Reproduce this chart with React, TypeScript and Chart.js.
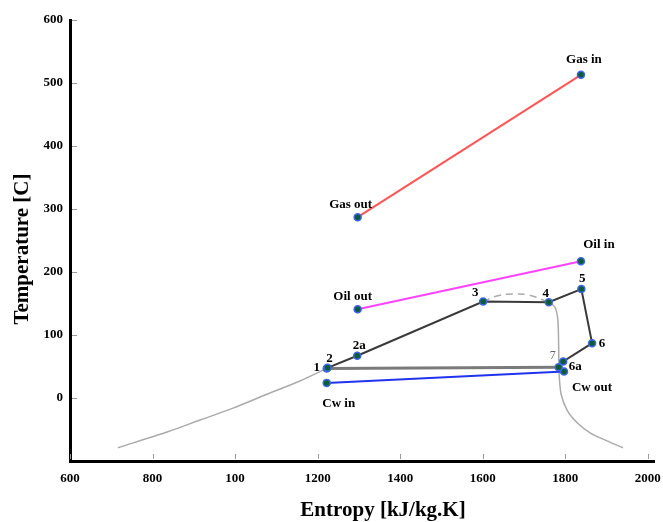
import React, { useEffect, useRef } from "react";
import { Chart, registerables } from "chart.js";

Chart.register(...registerables);

// Axis ticks (labels as printed on the axis)
const entropyTicks = [600, 800, 1000, 1200, 1400, 1600, 1800, 2000];
const entropyTickLabels = ["600", "800", "100", "1200", "1400", "1600", "1800", "2000"];
const temperatureTicks = [0, 100, 200, 300, 400, 500, 600];

// Saturation dome: liquid branch, top of the dome, vapour branch
const domeLiquidS = [716, 835, 915, 995, 1077, 1157, 1222];
const domeLiquidT = [-79, -54, -35, -16, 6, 27, 47];
const domeTopS = [1601, 1634, 1673, 1714, 1760];
const domeTopT = [153, 162, 165, 163, 152];
const domeVaporS = [1760, 1775, 1782, 1784, 1785, 1790, 1805, 1830, 1862, 1901, 1940];
const domeVaporT = [152, 144, 124, 81, 40, 6, -20, -40, -56, -68, -79];

// ORC cycle states
const cycleStates = ["1", "2", "2a", "3", "4", "5", "6", "6a", "7"];
const cycleS = [1222, 1224, 1296, 1601, 1760, 1839, 1865, 1795, 1784];
const cycleT = [47, 48, 67, 153, 152, 173, 87, 58, 49];

// Heat source / sink streams
const gasStates = ["Gas out", "Gas in"];
const gasS = [1297, 1838];
const gasT = [287, 513];
const oilStates = ["Oil out", "Oil in"];
const oilS = [1297, 1838];
const oilT = [141, 217];
const cwStates = ["Cw in", "Cw out"];
const cwS = [1222, 1797];
const cwT = [24, 42];

const pts = (s: number[], t: number[]) => s.map((v, i) => ({ x: v, y: t[i] }));

// Text placement around each state point (pixel offsets)
const labelOffsets: Record<string, [number, number]> = {
  "Gas in": [3, -15],
  "Gas out": [-7, -13],
  "Oil in": [18, -17],
  "Oil out": [-5, -13],
  "1": [-10, -1],
  "2": [2, -9],
  "2a": [2, -10],
  "3": [-8, -9],
  "4": [-3, -9],
  "5": [1, -10],
  "6": [10, 0],
  "6a": [12, 5],
  "7": [-6, -11],
  "Cw out": [28, 16],
  "Cw in": [12, 21],
};

const SERIF = "'Liberation Serif', 'Times New Roman', serif";

const marker = {
  pointRadius: 3.5,
  pointBackgroundColor: "#0d5c34",
  pointBorderColor: "#3b66e8",
  pointBorderWidth: 1.5,
};

const annotatePlugin = {
  id: "annotate",
  beforeDatasetsDraw(chart: any) {
    const { ctx, chartArea } = chart;
    const xs = chart.scales.x;
    const ys = chart.scales.y;
    ctx.save();
    ctx.strokeStyle = "#9a9a9a";
    ctx.lineWidth = 1;
    xs.ticks.forEach((t: any) => {
      const px = Math.round(xs.getPixelForValue(t.value)) + 0.5;
      ctx.beginPath();
      ctx.moveTo(px, chartArea.bottom - 2);
      ctx.lineTo(px, chartArea.bottom - 7);
      ctx.stroke();
    });
    ys.ticks.forEach((t: any) => {
      const py = Math.round(ys.getPixelForValue(t.value)) + 0.5;
      ctx.beginPath();
      ctx.moveTo(chartArea.left + 2, py);
      ctx.lineTo(chartArea.left + 7, py);
      ctx.stroke();
    });
    ctx.restore();
  },
  afterDatasetsDraw(chart: any) {
    const { ctx } = chart;
    const xs = chart.scales.x;
    const ys = chart.scales.y;
    ctx.save();
    ctx.textAlign = "center";
    ctx.textBaseline = "middle";

    const put = (names: string[], s: number[], t: number[]) => {
      names.forEach((name, i) => {
        const [dx, dy] = labelOffsets[name] || [0, -10];
        const px = xs.getPixelForValue(s[i]) + dx;
        const py = ys.getPixelForValue(t[i]) + dy;
        if (name === "7") {
          ctx.font = `12px ${SERIF}`;
          ctx.fillStyle = "#666";
        } else {
          ctx.font = `bold 13px ${SERIF}`;
          ctx.fillStyle = "#000";
        }
        ctx.fillText(name, px, py);
      });
    };
    put(gasStates, gasS, gasT);
    put(oilStates, oilS, oilT);
    put(cwStates, cwS, cwT);
    put(cycleStates, cycleS, cycleT);

    // Axis titles
    ctx.fillStyle = "#000";
    ctx.font = `bold 21px ${SERIF}`;
    ctx.fillText("Entropy [kJ/kg.K]", 383, 511);
    ctx.translate(23, 249);
    ctx.rotate(-Math.PI / 2);
    ctx.fillText("Temperature [C]", 0, 0);
    ctx.restore();
  },
};

export default function App() {
  const canvasRef = useRef<HTMLCanvasElement | null>(null);

  useEffect(() => {
    if (!canvasRef.current) return;
    const chart = new Chart(canvasRef.current, {
      type: "scatter",
      data: {
        datasets: [
          {
            label: "Cycle",
            data: pts(cycleS, cycleT),
            showLine: true,
            borderColor: "#3a3a3a",
            borderWidth: 2,
            ...marker,
          },
          {
            label: "Condensation",
            data: pts([cycleS[8], cycleS[0]], [cycleT[8], cycleT[0]]),
            showLine: true,
            borderColor: "#7a7a7a",
            borderWidth: 3,
            pointRadius: 0,
          },
          {
            label: "Gas",
            data: pts(gasS, gasT),
            showLine: true,
            borderColor: "#ff5555",
            borderWidth: 2,
            ...marker,
          },
          {
            label: "Oil",
            data: pts(oilS, oilT),
            showLine: true,
            borderColor: "#ff44ff",
            borderWidth: 2,
            ...marker,
          },
          {
            label: "Cooling water",
            data: pts(cwS, cwT),
            showLine: true,
            borderColor: "#2233ee",
            borderWidth: 2,
            ...marker,
          },
          {
            label: "Saturated liquid",
            data: pts(domeLiquidS, domeLiquidT),
            showLine: true,
            borderColor: "#ababab",
            borderWidth: 1.5,
            pointRadius: 0,
            tension: 0.3,
          },
          {
            label: "Dome top",
            data: pts(domeTopS, domeTopT),
            showLine: true,
            borderColor: "#ababab",
            borderWidth: 1.5,
            borderDash: [7, 5],
            pointRadius: 0,
            tension: 0.4,
          },
          {
            label: "Saturated vapour",
            data: pts(domeVaporS, domeVaporT),
            showLine: true,
            borderColor: "#ababab",
            borderWidth: 1.5,
            pointRadius: 0,
            tension: 0.3,
          },
        ],
      },
      options: {
        responsive: false,
        animation: false,
        layout: { padding: { left: 0, right: 9, top: 20, bottom: 0 } },
        plugins: {
          legend: { display: false },
          tooltip: { enabled: false },
        },
        scales: {
          x: {
            type: "linear",
            min: 600,
            max: 2015,
            grid: { display: false, drawTicks: false },
            border: { display: true, color: "#000", width: 3 },
            afterBuildTicks: (scale: any) => {
              scale.ticks = entropyTicks.map((v) => ({ value: v }));
            },
            afterFit: (scale: any) => {
              scale.height = 61;
              scale.paddingLeft = 0;
              scale.paddingRight = 0;
            },
            ticks: {
              padding: 10,
              color: "#000",
              font: { family: SERIF, size: 13, weight: "bold" },
              callback: (v: any) => {
                const i = entropyTicks.indexOf(Number(v));
                return i >= 0 ? entropyTickLabels[i] : "";
              },
            },
          },
          y: {
            type: "linear",
            min: -100,
            max: 600,
            grid: { display: false, drawTicks: false },
            border: { display: true, color: "#000", width: 3 },
            afterBuildTicks: (scale: any) => {
              scale.ticks = temperatureTicks.map((v) => ({ value: v }));
            },
            afterFit: (scale: any) => {
              scale.width = 70;
              scale.paddingTop = 0;
              scale.paddingBottom = 0;
            },
            ticks: {
              padding: 7,
              color: "#000",
              font: { family: SERIF, size: 13, weight: "bold" },
              callback: (v: any) => String(v),
            },
          },
        },
      },
      plugins: [annotatePlugin],
    });
    return () => chart.destroy();
  }, []);

  return (
    <div style={{ position: "absolute", left: 0, top: 0, width: 663, height: 522, background: "#fff" }}>
      <canvas ref={canvasRef} width={663} height={522} />
    </div>
  );
}
